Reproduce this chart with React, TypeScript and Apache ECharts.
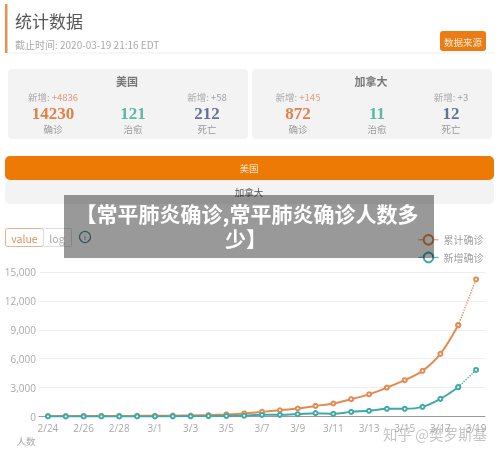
import React, { useEffect, useRef } from "react";
import * as echarts from "echarts";

const days = ["2/24","2/25","2/26","2/27","2/28","2/29","3/1","3/2","3/3","3/4","3/5","3/6","3/7","3/8","3/9","3/10","3/11","3/12","3/13","3/14","3/15","3/16","3/17","3/18","3/19"];
const cumulative = [53,53,57,60,62,68,74,90,105,150,220,320,480,650,830,1100,1350,1800,2300,3000,3770,4740,6500,9480,14230];
const daily = [10,5,8,6,10,12,10,15,20,40,60,90,170,170,240,350,280,480,590,800,800,1000,1830,3040,4836];
const yTicks = [0, 3000, 6000, 9000, 12000, 15000];
const usStats = { name: "美国", confirmed: "14230", cured: "121", dead: "212", newConfirmed: "+4836", newDead: "+58" };
const caStats = { name: "加拿大", confirmed: "872", cured: "11", dead: "12", newConfirmed: "+145", newDead: "+3" };

const ORANGE = "#e58a4e";
const TEAL = "#3fa9a8";
const SANS = "'Noto Sans CJK SC', sans-serif";
const SERIF = "'Liberation Serif', serif";

function txt(x: number, y: number, text: string, fontSize: number, fill: string, align = "center", extra: any = {}, z = 10) {
  return { type: "text", x, y, z, silent: true, style: { text, fontSize, fill, align, verticalAlign: "middle", fontFamily: SANS, ...extra } };
}

function panel(x: number, w: number, s: typeof usStats, c1: number, c2: number, c3: number) {
  return [
    { type: "rect", z: 1, shape: { x, y: 69, width: w, height: 70, r: 4 }, style: { fill: "#f3f3f4" } },
    txt(x + w / 2 - 1, 81, s.name, 11, "#777777", "center", { fontWeight: "bold" }),
    { type: "text", z: 10, x: c1, y: 97, style: { rich: { a: { fill: "#aaaaaa", fontSize: 9.5, fontFamily: SANS }, b: { fill: "#e59a78", fontSize: 9.5, fontFamily: SANS } }, text: "{a|新增: }{b|" + s.newConfirmed + "}", align: "center", verticalAlign: "middle" } },
    { type: "text", z: 10, x: c3, y: 97, style: { rich: { a: { fill: "#aaaaaa", fontSize: 9.5, fontFamily: SANS }, b: { fill: "#9aa0ad", fontSize: 9.5, fontFamily: SANS } }, text: "{a|新增: }{b|" + s.newDead + "}", align: "center", verticalAlign: "middle" } },
    txt(c1, 113, s.confirmed, 17, "#e0814a", "center", { fontFamily: SERIF, fontWeight: "bold" }),
    txt(c2, 113, s.cured, 17, "#5cb8a4", "center", { fontFamily: SERIF, fontWeight: "bold" }),
    txt(c3, 113, s.dead, 17, "#667392", "center", { fontFamily: SERIF, fontWeight: "bold" }),
    txt(c1, 129, "确诊", 9.5, "#999999"),
    txt(c2, 129, "治愈", 9.5, "#999999"),
    txt(c3, 129, "死亡", 9.5, "#999999"),
  ];
}

const lastSeg = (arr: number[]) => arr.map((v, i) => (i >= arr.length - 2 ? v : null));
const solidSeg = (arr: number[]) => arr.map((v, i) => (i < arr.length - 1 ? v : null));

export default function App() {
  const ref = useRef<HTMLDivElement>(null);
  useEffect(() => {
    document.body.style.margin = "0";
    const chart = echarts.init(ref.current!, undefined, { renderer: "svg" });
    const line = (name: string, data: (number | null)[], color: string, dotted: boolean, z: number) => ({
      name, type: "line", data, smooth: 0.3, z, showSymbol: true, symbol: "emptyCircle", symbolSize: 4, connectNulls: false,
      itemStyle: { color, borderWidth: 1 }, lineStyle: { color, width: dotted ? 1.3 : 2, type: dotted ? "dotted" : "solid" },
    });
    chart.setOption({
      animation: false,
      backgroundColor: "#ffffff",
      grid: { left: 39, right: 15, top: 272, height: 144.5 },
      legend: {
        orient: "vertical", left: 413, top: 229, itemWidth: 20, itemHeight: 12, itemGap: 6,
        textStyle: { color: "#a0a0a0", fontSize: 10, fontFamily: SANS },
        itemStyle: { borderWidth: 1 }, lineStyle: { width: 1 },
        data: ["累计确诊", "新增确诊"],
      },
      xAxis: {
        type: "category", data: days, boundaryGap: true,
        axisLine: { lineStyle: { color: "#999999" } }, axisTick: { length: 3, lineStyle: { color: "#999999" } },
        axisLabel: { color: "#aaaaaa", fontSize: 10, interval: 1, margin: 6, fontFamily: "'Open Sans', sans-serif" },
      },
      yAxis: {
        type: "value", min: 0, max: 15000, interval: 3000,
        axisLine: { show: false }, axisTick: { show: false },
        splitLine: { lineStyle: { color: "#eeeeee" } },
        axisLabel: { color: "#aaaaaa", fontSize: 10, margin: 3, formatter: (v: number) => (yTicks.includes(v) ? v.toLocaleString("en-US") : ""), fontFamily: "'Open Sans', sans-serif" },
      },
      series: [
        line("累计确诊", solidSeg(cumulative), ORANGE, false, 3),
        line("累计确诊", lastSeg(cumulative), ORANGE, true, 2),
        line("新增确诊", solidSeg(daily), TEAL, false, 5),
        line("新增确诊", lastSeg(daily), TEAL, true, 4),
      ],
      graphic: { elements: [
        { type: "rect", z: 1, shape: { x: 5, y: 4, width: 2.5, height: 49 }, style: { fill: "#e5914f" } },
        txt(15, 20, "统计数据", 17, "#555555", "left"),
        txt(15, 44, "截止时间: 2020-03-19 21:16 EDT", 10, "#aaaaaa", "left"),
        { type: "line", z: 1, shape: { x1: 8, y1: 53, x2: 495, y2: 53 }, style: { stroke: "#eeeeee", lineWidth: 1 } },
        { type: "rect", z: 1, shape: { x: 440, y: 31, width: 46, height: 20, r: 3 }, style: { fill: "#e97c14" } },
        txt(463, 41.5, "数据来源", 9.5, "#fbe7cf"),
        ...panel(8, 240, usStats, 53, 133, 207),
        ...panel(252, 240, caStats, 298, 377, 451),
        { type: "rect", z: 1, shape: { x: 5, y: 156, width: 489, height: 24, r: 5 }, style: { fill: "#ee7a06" } },
        txt(249, 168, "美国", 9.5, "#fbe7cf"),
        { type: "rect", z: 1, shape: { x: 5, y: 180, width: 489, height: 24, r: 5 }, style: { fill: "#f3f3f4" } },
        txt(249, 192, "加拿大", 9.5, "#555555"),
        { type: "rect", z: 1, shape: { x: 5.5, y: 228.5, width: 38, height: 18, r: 2 }, style: { fill: "#fff", stroke: "#e3b48d", lineWidth: 1 } },
        txt(24.5, 238, "value", 10.5, "#d9935f"),
        { type: "rect", z: 1, shape: { x: 43.5, y: 228.5, width: 28, height: 18, r: 1 }, style: { fill: "#fff", stroke: "#dddddd", lineWidth: 1 } },
        txt(57, 238, "log", 10.5, "#aaaaaa"),
        { type: "circle", z: 1, shape: { cx: 85, cy: 237, r: 5.5 }, style: { fill: "#fff", stroke: "#5a8ba0", lineWidth: 1.2 } },
        txt(85, 237, "i", 7, "#5a8ba0"),
        txt(26, 441, "人数", 9.5, "#aaaaaa"),
        txt(487, 433, "知乎 @樊罗斯基", 14.5, "rgba(150,150,150,0.55)", "right", {}, 40),
        { type: "rect", z: 50, shape: { x: 64, y: 195, width: 370, height: 63 }, style: { fill: "rgba(0,0,0,0.4)" } },
        txt(247, 213, "【常平肺炎确诊,常平肺炎确诊人数多", 21, "#ffffff", "center", { fontWeight: "bold" }, 51),
        txt(246, 238, "少】", 21, "#ffffff", "center", { fontWeight: "bold" }, 51),
      ] },
    });
    return () => chart.dispose();
  }, []);
  return <div ref={ref} style={{ position: "absolute", left: 0, top: 0, width: 500, height: 454, filter: "blur(0.4px)" }} />;
}
